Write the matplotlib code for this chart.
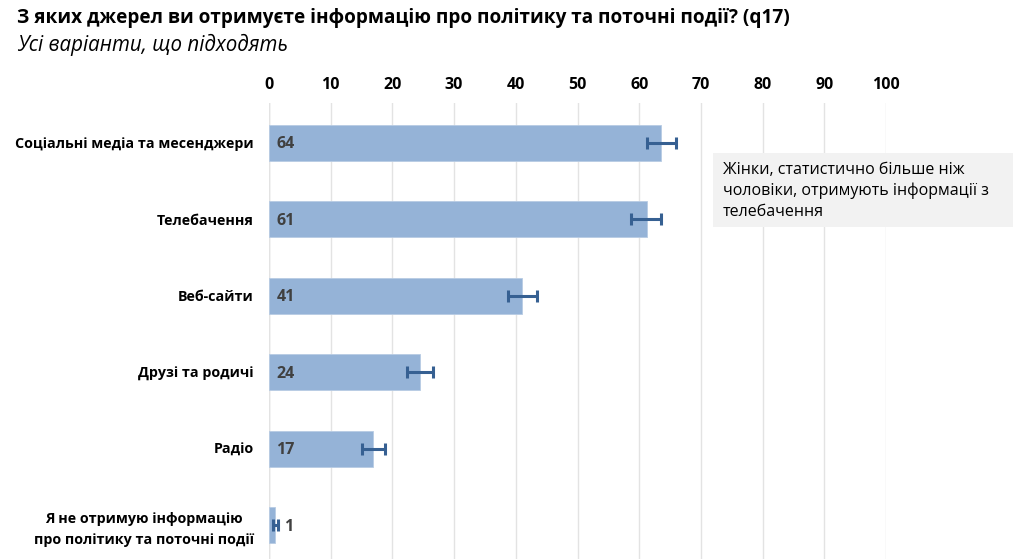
import numpy as np
import matplotlib
matplotlib.use("Agg")
import matplotlib.pyplot as plt
from matplotlib.patches import Rectangle

plt.rcParams["font.family"] = ["Open Sans", "DejaVu Sans"]

# data
CATEGORIES = [
    "Соціальні медіа та месенджери",
    "Телебачення",
    "Веб-сайти",
    "Друзі та родичі",
    "Радіо",
    "Я не отримую інформацію\nпро політику та поточні події",
]
VALUES = [63.6, 61.2, 41.0, 24.4, 16.9, 1.0]
LABELS = ["64", "61", "41", "24", "17", "1"]
ERR_LOW = [61.3, 58.7, 38.7, 22.3, 15.0, 0.6]
ERR_HIGH = [66.0, 63.6, 43.4, 26.5, 18.8, 1.4]
X_TICKS = [0, 10, 20, 30, 40, 50, 60, 70, 80, 90, 100]

TITLE = "З яких джерел ви отримуєте інформацію про політику та поточні події? (q17)"
SUBTITLE = "Усі варіанти, що підходять"
NOTE = "Жінки, статистично більше ніж\nчоловіки, отримують інформації з\nтелебачення"

BAR_COLOR = "#95b3d7"
ERR_COLOR = "#366092"
TEXT_DARK = "#404040"

fig = plt.figure(figsize=(10.24, 5.59), dpi=100)
ax = fig.add_axes([269 / 1024, 0, (886 - 269) / 1024, 1 - 103 / 559])

y = np.arange(len(CATEGORIES))
vals = np.array(VALUES)
lo = vals - np.array(ERR_LOW)
hi = np.array(ERR_HIGH) - vals

ax.barh(y, vals, height=0.47, color=BAR_COLOR, edgecolor="#b8cce4", linewidth=0.6, zorder=2)
ax.errorbar(vals, y, xerr=[lo, hi], fmt="none", ecolor=ERR_COLOR,
            elinewidth=2.2, capsize=4, capthick=2.2, zorder=3)

for yi, v, lab in zip(y, vals, LABELS):
    if v > 5:
        ax.text(1.2, yi + 0.02, lab, ha="left", va="center", fontsize=11.5,
                fontweight="bold", color=TEXT_DARK, zorder=4)
    else:
        ax.text(ERR_HIGH[yi] + 1.0, yi + 0.02, lab, ha="left", va="center", fontsize=11.5,
                fontweight="bold", color=TEXT_DARK, zorder=4)

ax.set_xlim(0, 100)
ax.set_ylim(5.445, -0.52)
ax.set_xticks(X_TICKS)
ax.xaxis.tick_top()
ax.tick_params(axis="x", length=0, pad=7.5, labelsize=11.5)
for t in ax.get_xticklabels():
    t.set_fontweight("bold")
ax.set_yticks(y)
ax.set_yticklabels(CATEGORIES, fontsize=10.3, fontweight="bold")
ax.tick_params(axis="y", length=0, pad=11)
for t in ax.get_yticklabels():
    t.set_multialignment("center")
    t.set_linespacing(1.6)
ax.grid(axis="x", color="#e3e3e3", linewidth=1.0, zorder=0)
for s in ax.spines.values():
    s.set_visible(False)
ax.axvline(0, color="#d9d9d9", linewidth=1.0, zorder=1)

fig.text(17 / 1024, 1 - 18 / 559, TITLE, fontsize=13.7, fontweight="bold",
         ha="left", va="center", color="black")
fig.text(17 / 1024, 1 - 45 / 559, SUBTITLE, fontsize=14.8, style="italic",
         ha="left", va="center", color="black")

fig.patches.append(Rectangle((713 / 1024, 1 - 227 / 559), 300 / 1024, 74 / 559,
                             transform=fig.transFigure, facecolor="#f2f2f2",
                             edgecolor="none", zorder=5))
fig.text(723 / 1024, 1 - 191 / 559, NOTE, fontsize=11.5, ha="left", va="center",
         color="black", linespacing=1.4, zorder=6)

fig.savefig("out.png", dpi=100)
